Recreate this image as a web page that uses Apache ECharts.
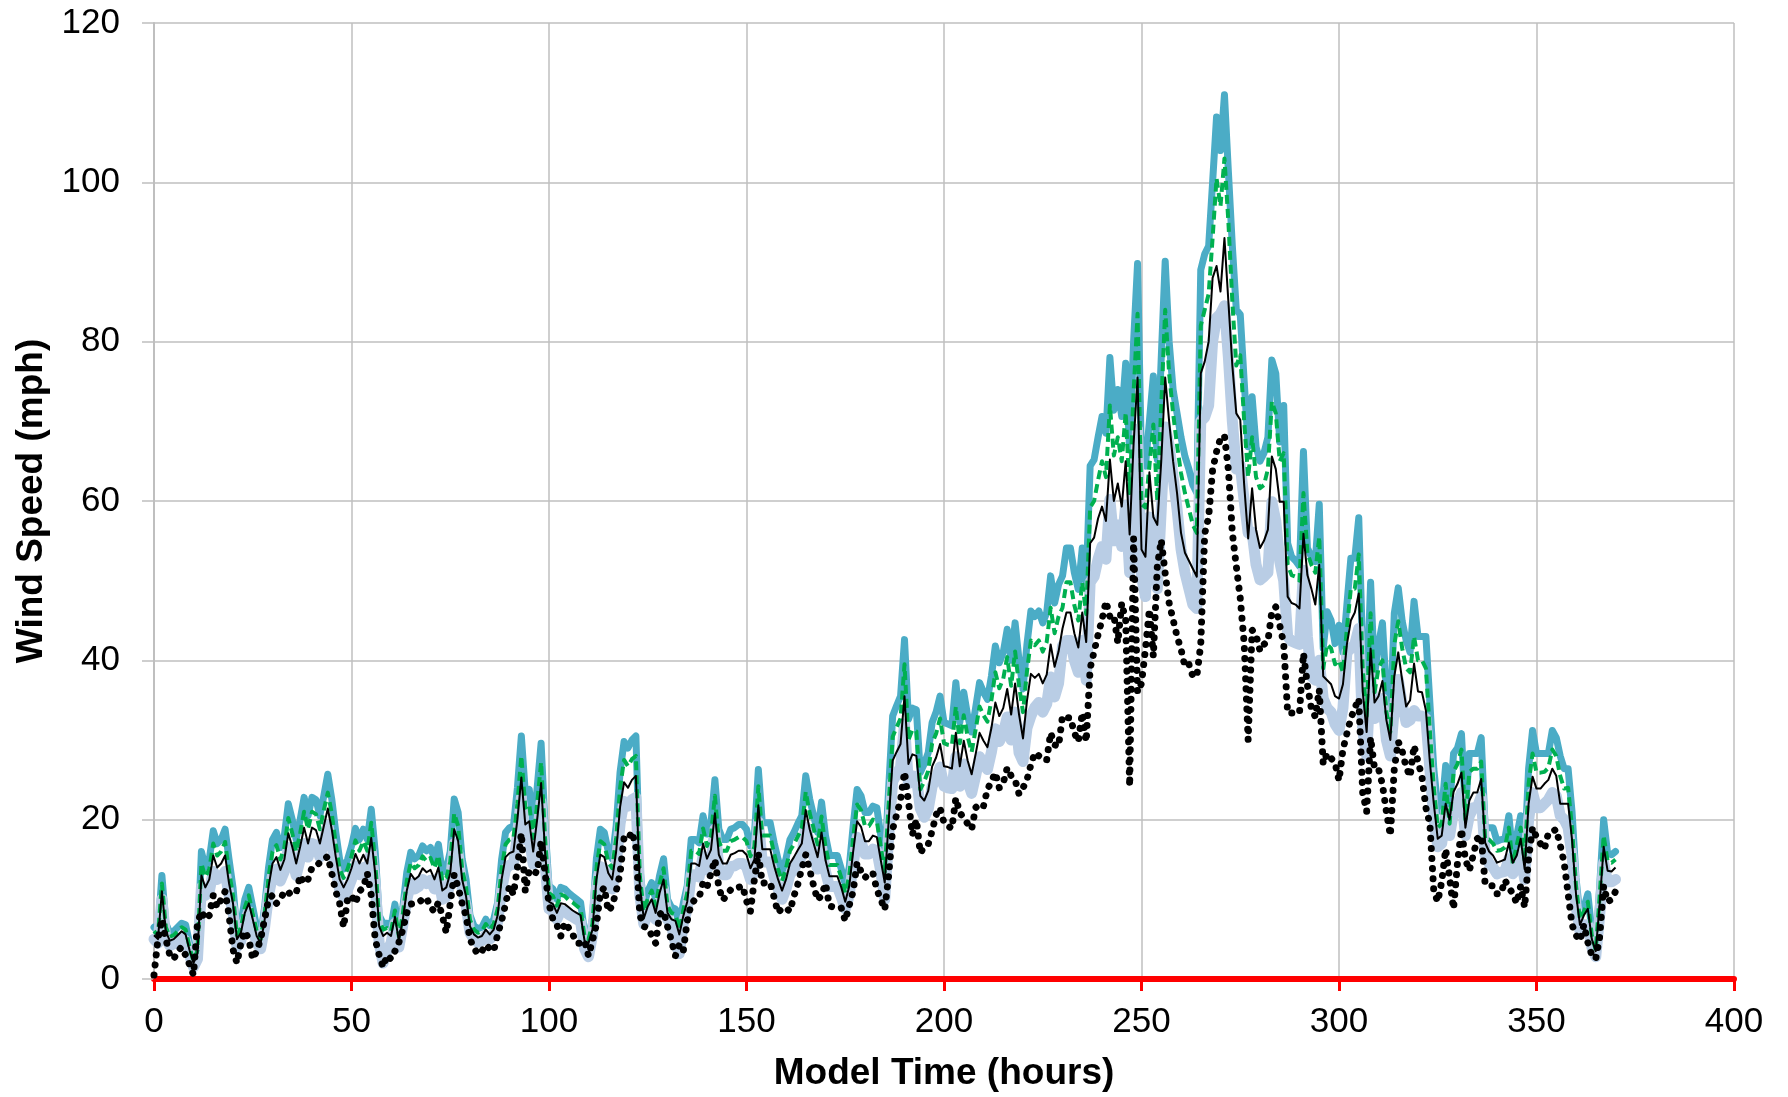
<!DOCTYPE html>
<html>
<head>
<meta charset="utf-8">
<script src="https://cdn.jsdelivr.net/npm/echarts@6/dist/echarts.min.js"></script>
<style>
  html, body { margin: 0; padding: 0; background: #fff; }
  #windChart { width: 1788px; height: 1097px; }
</style>
</head>
<body>
<div id="windChart"></div>
<script>
// hourly samples, model time 0..370 h
const firstHour = 0
const lastHour = 370

// top thick teal line
const tealSpeed = [
  6.5, 6, 13, 7, 5.8, 6, 6.5, 7, 6.8, 4.5,
  2.5, 4, 16, 14, 15, 18.6, 17, 17.5, 18.8, 15,
  11.5, 6, 7, 10, 11.5, 9, 6.5, 5.5, 9, 14,
  17.5, 18.4, 16.5, 18, 22, 20, 17.5, 20, 22.8, 20.5,
  22.8, 22.5, 20.5, 23, 25.7, 22.6, 18.5, 15, 13.8, 15,
  16.7, 18.9, 17.5, 18.8, 17.5, 21.3, 16, 8, 7, 7,
  6.6, 9.4, 5.8, 9, 13.4, 15.9, 15.1, 15.5, 16.7, 16.1,
  16.5, 15.1, 16.9, 13.4, 13.8, 16, 22.6, 20.9, 15.1, 12.5,
  8, 6.7, 6.3, 6.5, 7.5, 6.7, 7.5, 9.6, 15, 18.4,
  19, 19.2, 24, 30.5, 23.4, 23.8, 19.2, 24, 29.6, 19.2,
  11.7, 11.3, 10, 11.5, 11.3, 10.8, 10.4, 10, 9.6, 5.8,
  5.5, 7.5, 15.1, 18.8, 18.4, 16, 15.1, 19.2, 26, 29.8,
  29, 30, 30.5, 14, 9.2, 11, 12.1, 10, 13, 15.1,
  10, 9, 8.8, 6.8, 9.5, 11.7, 17.5, 17.5, 17.1, 20.5,
  18.2, 19.5, 25, 18.8, 17.5, 17.5, 18.8, 19, 19.4, 19.4,
  18.8, 16.7, 18, 26.3, 19.6, 19.6, 19.6, 17.1, 15, 13.4,
  15.1, 17.5, 18.4, 19.5, 20.5, 25.5, 22.6, 20.5, 18.4, 22.2,
  18, 15.5, 15.5, 15.5, 13.8, 11.7, 14, 19.2, 23.8, 23,
  20.9, 20.9, 21.7, 21.5, 18, 14.6, 24, 33, 34.3, 35.5,
  42.6, 32.6, 34, 33.8, 25.9, 27, 28.4, 32.2, 33.5, 35.5,
  32.2, 32, 31.8, 37.2, 32.2, 36, 33, 31, 34, 37.2,
  36, 35.1, 38, 41.8, 39.7, 41, 43.9, 40, 44.7, 40,
  36.4, 42, 46.2, 45.5, 46.2, 44.7, 46, 50.6, 47.2, 49.5,
  50.6, 54.1, 54.1, 51, 48.9, 54.1, 49.8, 64.4, 65.2, 68,
  70.6, 68.5, 78, 71.4, 74, 70.6, 77.3, 66.4, 80, 89.8,
  64.8, 64.4, 70, 75.7, 65.2, 78, 90.1, 80, 74, 71,
  68, 65.6, 64, 62, 61, 89, 91, 92, 100, 108.2,
  104, 111, 101.3, 92, 84, 83.4, 75, 66.8, 73.1, 66.8,
  65, 66, 68, 77.7, 76, 67.4, 72, 54.7, 53, 52.5,
  51.8, 66.2, 54.1, 53, 52.4, 59.6, 41.5, 46.1, 45, 42.1,
  44.4, 41, 47, 52.8, 52.8, 57.9, 41, 35.2, 49.8, 38.1,
  42, 44.7, 36, 32.7, 45.9, 49.1, 44.9, 42.5, 41, 47.4,
  43, 43, 43, 34.7, 26.4, 21.5, 21, 26.8, 21.5, 28.3,
  29, 30.8, 21, 28.3, 28.3, 28.3, 30.3, 19, 19, 19,
  17.3, 17.5, 17.6, 20.5, 15.6, 18, 20.5, 15.8, 26.4, 31.2,
  28.3, 28.3, 28.3, 28.3, 31.2, 30.3, 28, 26.4, 26.4, 21,
  12.7, 8, 9, 10.7, 6, 3.9, 11.7, 20, 15.8, 15.6, 16
]

// green dashed line
const greenSpeed = [
  6, 5.5, 12, 6.5, 5.3, 5.5, 6, 6.5, 6.2, 4,
  2.2, 3.6, 14.5, 12.8, 13.8, 17, 15.5, 16, 17.2, 13.5,
  10.5, 5.5, 6.4, 9, 10.5, 8.2, 6, 5, 8.2, 12.8,
  16, 16.8, 15, 16.5, 20.2, 18.3, 16, 18.3, 21, 18.8,
  21, 20.7, 18.8, 21.2, 23.4, 20.8, 17, 13.8, 12.7, 13.8,
  15.4, 17.4, 16.1, 17.3, 16.1, 19.6, 14.7, 7.4, 6.2, 6.4,
  6, 8.6, 5.3, 8.2, 12.3, 14.6, 13.9, 14.3, 15.4, 14.8,
  15.2, 13.9, 15.5, 12.3, 12.7, 14.7, 20.8, 19.2, 13.9, 11.5,
  7.4, 6.2, 5.8, 6, 6.9, 6.2, 6.9, 8.8, 13.8, 16.9,
  17.5, 17.7, 22, 28, 21.5, 21.9, 17.7, 22, 27.2, 17.7,
  10.8, 10.4, 9.2, 10.6, 10.4, 9.9, 9.6, 9.2, 8.8, 5.3,
  5, 6.9, 13.9, 17.3, 16.9, 14.7, 13.9, 17.7, 24, 27.5,
  26.7, 27.6, 28, 12.9, 8.5, 10.1, 11.1, 9.2, 12, 13.9,
  9.2, 8.3, 8.1, 6.2, 8.7, 10.8, 16.1, 16.1, 15.7, 18.9,
  16.7, 18, 23, 17.3, 16.1, 16.1, 17.3, 17.5, 17.8, 17.8,
  17.3, 15.4, 16.6, 24.2, 18, 18, 18, 15.7, 13.8, 12.3,
  13.9, 16.1, 16.9, 17.9, 18.9, 23.5, 20.8, 18.9, 16.9, 20.4,
  16.6, 14.3, 14.3, 14.3, 12.7, 10.8, 12.9, 17.7, 21.9, 21.2,
  19.2, 19.2, 20, 19.8, 16.6, 13.4, 22, 30.4, 31.6, 32.7,
  39.5, 30, 31.3, 31.1, 23.8, 24.8, 26.1, 29.6, 30.8, 32.7,
  29.6, 29.4, 29.3, 34.2, 29.6, 33.1, 30.4, 28.5, 31.3, 34.2,
  33.1, 32.3, 35, 38.5, 36.5, 37.7, 40.4, 36.8, 41.1, 36.8,
  33.5, 38.6, 42.5, 41.9, 42.5, 41.1, 42.3, 46.6, 43.4, 45.5,
  46.6, 49.8, 49.8, 46.9, 45, 49.8, 45.8, 59.2, 60, 62.6,
  65, 63, 72, 65.7, 68, 65, 71.1, 61, 73.6, 83.5,
  59.6, 59.2, 64.4, 69.6, 60, 72, 84, 76, 71, 67,
  63.5, 61, 59, 57, 56, 82, 84, 86, 93, 100.5,
  97, 103, 95, 85, 77, 78.3, 70, 63, 68, 63,
  61.6, 62, 64, 72.5, 71, 65, 66, 52, 50.7, 50.5,
  50, 61, 53.5, 52, 51, 55.5, 39, 42, 41.5, 39.5,
  40, 38.5, 44, 49, 49, 53.3, 39, 33, 45.9, 36,
  39, 40, 33.5, 31, 42, 44.9, 41.5, 39, 38.5, 43,
  40, 40, 39, 31.2, 24, 19, 19.5, 24.5, 19.5, 26,
  27, 28.8, 20, 26, 26.4, 26.4, 27.3, 17.5, 17.5, 17,
  16.1, 16.2, 16.5, 19, 14.5, 16.8, 19, 14.8, 24.5, 28.3,
  25.9, 25.9, 26, 26.5, 28.8, 28, 25.5, 23.9, 24, 19,
  11.7, 7.5, 8.5, 9.7, 5.5, 3.6, 10.5, 18, 14.8, 14.6, 15
]

// thin black line
const blackSpeed = [
  5.5, 5, 11, 6, 4.8, 5, 5.5, 6, 5.6, 3.6,
  2, 3.2, 13, 11.5, 12.5, 15.5, 14, 14.5, 15.5, 12,
  9.5, 5, 5.8, 8.3, 9.5, 7.5, 5.4, 4.5, 7.4, 11.6,
  14.5, 15.3, 13.7, 15, 18.3, 16.6, 14.5, 16.6, 19, 17,
  19, 18.7, 17, 19.2, 21.4, 18.8, 15.4, 12.5, 11.5, 12.5,
  13.9, 15.7, 14.5, 15.6, 14.5, 17.7, 13.3, 6.6, 5.4, 5.8,
  5.4, 7.8, 4.8, 7.5, 11.1, 13.2, 12.5, 12.9, 13.9, 13.4,
  13.7, 12.5, 14, 11.1, 11.5, 13.3, 18.8, 17.3, 12.5, 10.4,
  6.6, 5.6, 5.2, 5.4, 6.2, 5.6, 6.2, 8, 12.5, 15.3,
  15.8, 16, 20, 25.3, 19.4, 19.8, 16, 20, 24.6, 16,
  9.7, 9.4, 8.3, 9.5, 9.4, 9, 8.6, 8.3, 8, 4.8,
  4.5, 6.2, 12.5, 15.6, 15.3, 13.3, 12.5, 16, 21.6, 24.7,
  24, 25, 25.5, 11.6, 7.6, 9.1, 10, 8.3, 10.8, 12.5,
  8.3, 7.5, 7.3, 5.6, 7.9, 9.7, 14.5, 14.5, 14.2, 17,
  15.1, 16.2, 20.8, 15.6, 14.5, 14.5, 15.6, 15.8, 16.1, 16.1,
  15.6, 13.9, 15, 21.8, 16.3, 16.3, 16.3, 14.2, 12.5, 11.1,
  12.5, 14.5, 15.3, 16.2, 17, 21.2, 18.8, 17, 15.3, 18.4,
  14.9, 12.9, 12.9, 12.9, 11.5, 9.7, 11.6, 16, 19.8, 19.1,
  17.3, 17.3, 18, 17.8, 14.9, 12.1, 19.9, 27.4, 28.5, 29.5,
  35.5, 27, 28.2, 28, 23, 22.4, 23.6, 26.7, 27.8, 29.5,
  26.7, 26.6, 26.4, 30.9, 26.7, 29.9, 27.4, 25.7, 28.2, 30.9,
  29.9, 29.1, 31.5, 34.7, 33, 34, 36.4, 33.2, 37.1, 33.2,
  30.2, 34.9, 38.3, 37.8, 38.3, 37.1, 38.2, 42, 39.2, 41.1,
  44, 46, 46, 43.4, 41.6, 46, 42.3, 54.7, 55.4, 57.8,
  59.3, 57.5, 65.2, 60, 62.2, 59.3, 65, 55.8, 67.2, 75.5,
  53.9, 53, 63.6, 58, 57, 65, 75.5, 70, 65, 61,
  56, 53.5, 52.5, 51.5, 50.5, 76, 77.5, 80, 88, 89.5,
  86.3, 93, 85, 77, 71, 70.2, 62, 55.3, 61.6, 56.4,
  54.1, 55, 56.4, 65.6, 64, 59.9, 59.9, 48, 47.2, 47,
  46.5, 55.9, 50.7, 49, 47, 52, 38, 37.5, 37, 35.5,
  35.2, 37, 42, 45, 46, 48.4, 36.1, 31, 41.5, 34.7,
  35.5, 37.4, 32.5, 30, 38, 41, 37.5, 34.2, 35, 39.6,
  36.1, 36, 33.7, 27.3, 22, 17.6, 18, 22, 20, 23.5,
  24.5, 25.9, 19, 22.4, 23.4, 23.4, 25.1, 17.1, 16, 15.5,
  14.6, 14.8, 15, 17.1, 14.6, 15.5, 17.6, 13.8, 22, 25.4,
  23.9, 23.9, 24.5, 25, 26.4, 25.5, 22, 22, 22, 17.5,
  10.7, 6.8, 8, 8.8, 5, 3.5, 9.5, 16.6, 13.6, 13.5, 14
]

// thick light blue line
const blueSpeed = [
  5, 4.5, 10, 5, 4.2, 4.4, 4.8, 5.2, 4.8, 3,
  1.5, 2.5, 11.5, 10.5, 11, 13.5, 12.5, 12.8, 13.5, 10.5,
  8.5, 4, 4.8, 7.2, 8.5, 6.5, 4.5, 3.8, 6.5, 10.5,
  13, 13.8, 12.3, 13.5, 16.5, 15, 13, 15, 17, 15.3,
  17, 16.8, 15.3, 17.2, 19.3, 17, 13.8, 11.2, 10.3, 11.2,
  12.5, 14.2, 13.1, 14, 13.1, 16, 12, 4.5, 2, 3.5,
  4.5, 7, 4, 6.8, 10, 12, 11.3, 11.6, 12.5, 12,
  12.4, 11.3, 12.7, 10, 10.3, 12, 17, 15.7, 11.3, 9.3,
  5.8, 5, 4.6, 4.8, 5.5, 5, 5.5, 7.2, 11.2, 13.8,
  14.3, 14.4, 18, 22.8, 17.5, 17.8, 14.4, 18, 22.2, 14.4,
  8.8, 8.5, 7.5, 8.6, 8.5, 8.1, 7.8, 7.5, 7.2, 3.8,
  2.8, 5.5, 11.3, 14.1, 13.8, 12, 11.3, 14.4, 19.5, 22.3,
  21.7, 22.5, 22.8, 10.5, 6.9, 8.2, 9, 7.5, 9.7, 11.3,
  7.5, 6.7, 4.5, 3.2, 7, 8.8, 13.1, 13.1, 12.8, 15.4,
  13.7, 14.6, 18.8, 14.1, 13.1, 13.1, 14.1, 14.2, 14.5, 14.5,
  14.1, 12.5, 13.5, 19.7, 14.7, 14.7, 14.7, 12.8, 11.3, 10,
  11.3, 13.1, 13.8, 14.6, 15.4, 19.1, 17, 15.4, 13.8, 16.6,
  13.5, 11.6, 11.6, 11.6, 10.3, 8.8, 10.5, 14.4, 17.8, 17.2,
  15.7, 15.7, 16.3, 16.1, 13.5, 10, 18, 24.8, 25.7, 26.6,
  32, 24.5, 25.5, 25.4, 21.4, 20.3, 21.3, 24.2, 25.1, 26.6,
  24.2, 24, 23.9, 27.9, 24.2, 27, 24.8, 23.3, 25.5, 27.9,
  27, 26.3, 28.5, 31.4, 29.8, 30.8, 32.9, 30, 33.5, 28.4,
  27.3, 31.5, 33, 34.1, 34.7, 33.5, 34.5, 37.9, 35.4, 37.1,
  41.8, 42.5, 42.5, 40, 38.5, 42.5, 37.5, 49.8, 50.5, 52.7,
  54.3, 52.7, 60.2, 55, 57, 54.3, 59.5, 51, 61.6, 69,
  50.5, 48, 58, 57, 49, 59, 69.3, 67, 63, 59,
  54, 51, 49, 47, 46.5, 70, 70.5, 72, 80, 83,
  83.5, 84.5, 78, 70, 64, 64.5, 60, 56, 56.1, 52,
  50.1, 50.5, 51, 59.9, 57.5, 52.4, 50, 43, 42.4, 42.2,
  42, 51.3, 43, 38, 37.5, 40, 35.2, 34, 33.5, 32,
  31.2, 34, 41, 41.5, 42, 44, 31.2, 28, 38.1, 32.7,
  33, 35.2, 30, 28, 34, 37.6, 34.5, 32.2, 32.5, 33.7,
  33, 33, 32.7, 26.4, 20, 16.6, 17, 21, 18, 21,
  22, 23.4, 18, 20.5, 21.5, 21.5, 22.9, 15.6, 14.5, 14,
  13.2, 13.4, 13.5, 15.1, 13.2, 14, 15.6, 12.5, 20, 23.4,
  21.5, 21.5, 22, 22.5, 23.4, 23, 20.5, 20, 19, 15.5,
  9.2, 6, 6.8, 6.8, 4, 2.8, 8, 14.6, 12.2, 12.2, 12.5
]

// round-dot black line
const dotSpeed = [
  0.5, 5, 7.5, 5, 3, 2.5, 3.5, 4, 3, 1.8,
  0.5, 7, 8.5, 7.5, 8, 10.5, 9, 10, 11, 8,
  3.7, 2, 4.5, 6, 5, 2.5, 3.5, 5, 7.5, 10,
  10.5, 9.5, 10, 11, 10.7, 11, 10.8, 13, 12, 12.5,
  14, 14.2, 14.6, 15, 15.4, 13.3, 11, 9.5, 6.5, 10,
  10.5, 9.5, 11, 11.5, 13.3, 10.5, 5, 3, 1.5, 3,
  2.5, 3.5, 4.6, 6.2, 8.3, 9.4, 9.5, 9.6, 10, 10.2,
  9, 8.5, 9.6, 7.9, 5.8, 9.5, 13.1, 11.5, 9.5, 7.9,
  5, 3.9, 3.1, 3.5, 4.3, 3.8, 3.5, 5.6, 7.3, 9.4,
  11.7, 10.6, 14, 18.3, 11, 13.7, 13.5, 13.3, 17.3, 13.3,
  9.4, 7.5, 6.8, 5.4, 7.1, 6.4, 5.6, 4.5, 4.5, 4.8,
  2.9, 4.8, 6.8, 10.8, 11.5, 8.5, 9.2, 11, 13.3, 17.7,
  17.5, 18.5, 16.5, 8, 6.6, 6.4, 5.5, 4.5, 8.1, 8.5,
  6.6, 4.8, 2.9, 4.3, 3.5, 7.3, 9.4, 10, 10.2, 12.1,
  11.5, 13.3, 15, 11.5, 9.9, 10.5, 11.2, 11.5, 11.5, 11.7,
  9.8, 8.5, 12.5, 15.8, 12, 12.1, 12.1, 10.2, 8.3, 8.9,
  8.9, 8.5, 10.4, 11.9, 13.9, 15.6, 13.7, 11.7, 9.9, 10.5,
  12, 9.2, 9, 9, 8.9, 7.3, 9.2, 11, 14.6, 13.5,
  12.7, 13.3, 13.3, 11.2, 10, 8.7, 13, 18.8, 20.6, 22.5,
  26, 22.3, 18.1, 20, 15.8, 16.6, 16.9, 18.6, 20.6, 21.5,
  19.6, 19.2, 18.9, 22.7, 20.9, 20.2, 19.5, 18.8, 21.5, 22,
  21.7, 23.8, 24.8, 25.9, 24, 24.6, 26.5, 25.5, 25, 23.2,
  24, 25, 26.9, 28.4, 28, 27.5, 27.5, 30.9, 29.4, 29.2,
  33, 32.8, 32.8, 30.9, 29.8, 33.4, 29.8, 39, 41.1, 43.2,
  45.1, 47.4, 45.5, 45.7, 42.2, 47.2, 45, 24.2, 55.3, 36,
  37.1, 41.4, 46.4, 40.5, 51.8, 55.1, 50.9, 47.2, 45.1, 43,
  41.4, 39.2, 39.5, 38, 38, 42, 55.9, 58, 63.9, 66.2,
  67.9, 68.2, 63.9, 56, 51.8, 47.8, 42.1, 30, 43.8, 43.2,
  41.2, 42, 42.4, 46.1, 46.7, 44.4, 42.1, 33.4, 33.4, 33.4,
  33.4, 40.9, 36.9, 34, 32.9, 36.3, 27, 28.3, 27.7, 27.1,
  24.9, 28.8, 30.8, 32.7, 34, 35.2, 23.4, 21, 30.3, 26.4,
  26.4, 24.4, 21, 18, 26.4, 29.8, 28.6, 26.6, 25.4, 29.3,
  27.3, 25.4, 21.5, 19.5, 11, 9.7, 12.2, 16.3, 12.7, 8.8,
  14.6, 18.8, 15, 13.6, 15.6, 17.6, 18, 11.9, 11.7, 11.7,
  10.7, 10.7, 12.4, 11.5, 10.7, 9.5, 11.7, 9, 15.1, 19,
  17.8, 17, 16.3, 18.3, 18.5, 18.8, 16.8, 14.6, 10.7, 6.8,
  5.5, 4.8, 6.8, 4.6, 3, 2.5, 5.3, 11.7, 9.7, 10, 11
]

const hours = []
for (let h = firstHour; h <= lastHour; h++) hours.push(h)

const toPoints = (values) => hours.map((h, i) => [h, values[i]])

const FONT = 'Liberation Sans, Arial, sans-serif'
const GRID_GREY = '#BFBFBF'

const chart = echarts.init(document.getElementById('windChart'))

const baseLine = {
  type: 'line',
  showSymbol: false,
  symbol: 'none',
  silent: true,
  animation: false
}

const option = {
  animation: false,
  backgroundColor: '#ffffff',
  grid: {
    left: 154,
    right: 54,
    top: 23,
    bottom: 117
  },
  xAxis: {
    type: 'value',
    min: 0,
    max: 400,
    interval: 50,
    name: 'Model Time (hours)',
    nameLocation: 'middle',
    nameGap: 76,
    nameTextStyle: {
      fontFamily: FONT,
      fontSize: 37,
      fontWeight: 'bold',
      color: '#000'
    },
    axisLine: {
      onZero: false,
      lineStyle: { color: '#FF0000', width: 6 }
    },
    axisTick: {
      show: true,
      length: 12,
      lineStyle: { color: '#FF0000', width: 3 }
    },
    axisLabel: {
      fontFamily: FONT,
      fontSize: 35,
      color: '#000',
      margin: 26
    },
    splitLine: {
      show: true,
      lineStyle: { color: GRID_GREY, width: 1.5 }
    }
  },
  yAxis: {
    type: 'value',
    min: 0,
    max: 120,
    interval: 20,
    name: 'Wind Speed (mph)',
    nameLocation: 'middle',
    nameRotate: 90,
    nameGap: 104,
    nameTextStyle: {
      fontFamily: FONT,
      fontSize: 37,
      fontWeight: 'bold',
      color: '#000'
    },
    axisLine: {
      show: true,
      lineStyle: { color: GRID_GREY, width: 2 }
    },
    axisTick: {
      show: true,
      length: 12,
      lineStyle: { color: GRID_GREY, width: 1.5 }
    },
    axisLabel: {
      fontFamily: FONT,
      fontSize: 35,
      color: '#000',
      margin: 34
    },
    splitLine: {
      show: true,
      lineStyle: { color: GRID_GREY, width: 1.5 }
    }
  },
  series: [
    {
      ...baseLine,
      name: 'teal',
      data: toPoints(tealSpeed),
      lineStyle: { color: '#4BACC6', width: 7, join: 'round', cap: 'round' }
    },
    {
      ...baseLine,
      name: 'light blue',
      data: toPoints(blueSpeed),
      lineStyle: { color: '#B9CDE5', width: 11, join: 'round', cap: 'round' }
    },
    {
      ...baseLine,
      name: 'green dashed',
      data: toPoints(greenSpeed),
      lineStyle: { color: '#00B050', width: 4, type: [9, 5], join: 'round' }
    },
    {
      ...baseLine,
      name: 'black',
      data: toPoints(blackSpeed),
      lineStyle: { color: '#000000', width: 2, join: 'round' }
    },
    {
      ...baseLine,
      name: 'dotted',
      data: toPoints(dotSpeed),
      lineStyle: { color: '#000000', width: 7, type: [0.1, 10], cap: 'round', join: 'round' }
    }
  ]
}

chart.setOption(option)
</script>
</body>
</html>
